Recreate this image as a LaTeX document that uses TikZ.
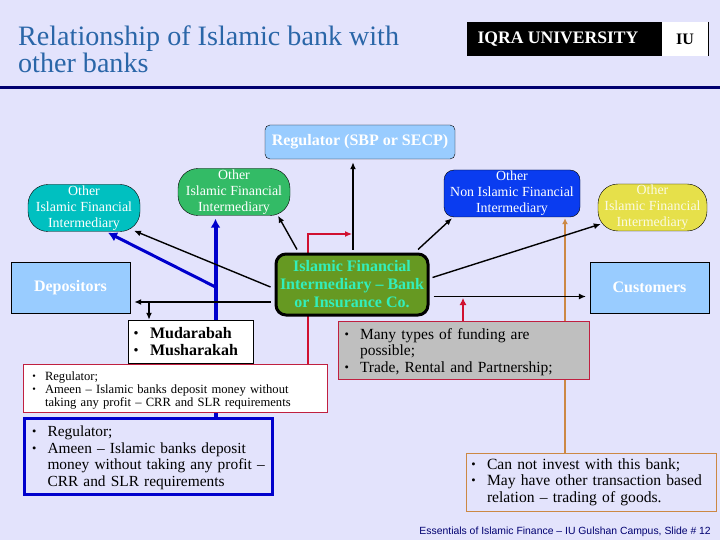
\documentclass[tikz,border=0pt]{standalone}
\usepackage{fontspec}
\setmainfont{Liberation Serif}
\newfontfamily\footerfont{Liberation Sans}
\usepackage{graphicx}
\usetikzlibrary{arrows.meta, backgrounds, calc}

\definecolor{slidebg}{HTML}{E3E3FC}
\definecolor{titleblue}{HTML}{2A66A8}
\definecolor{rulenavy}{HTML}{000070}
\definecolor{skybox}{HTML}{99CCFF}
\definecolor{tealbox}{HTML}{00C0C0}
\definecolor{greenbox}{HTML}{33BB66}
\definecolor{bluebox}{HTML}{0A3CF0}
\definecolor{yellowbox}{HTML}{E6E04A}
\definecolor{hubgreen}{HTML}{669922}
\definecolor{hubtext}{HTML}{33EEBB}
\definecolor{linkred}{HTML}{D01030}
\definecolor{linkorange}{HTML}{CC8844}
\definecolor{linkblue}{HTML}{0000CC}
\definecolor{edgered}{HTML}{C02040}

\newcommand{\bul}{\leavevmode\llap{\raisebox{.05em}{\scalebox{.8}{\textbullet}}\hspace{.72em}}}

\tikzset{
    other/.style={draw=black, rounded corners=20pt, text=white, align=center, inner sep=0pt,
        minimum height=47pt, font=\fontsize{13.9}{16}\selectfont,
        execute at begin node={\rule{0pt}{14pt}}},
    party/.style={draw=black, fill=skybox, text=white, align=center, inner sep=0pt,
        minimum width=119pt, minimum height=51pt, font=\fontsize{16}{18}\selectfont\bfseries},
    listbox/.style={align=left, inner sep=0pt, execute at begin node={\leftskip=#1\relax}},
    link/.style={black, line width=1.4pt, -{Latex[length=7pt,width=6pt]}},
}

\begin{document}
\begin{tikzpicture}[x=1pt, y=-1pt]
    \useasboundingbox (0,0) rectangle (720,540);

    % Heading
    \node[anchor=north west, align=left, inner sep=0pt, text=titleblue, font=\fontsize{28.1}{25}\selectfont] (title) at (18,26)
        {Relationship of Islamic bank with\\other banks};
    \node[fill=black, text=white, minimum width=195pt, minimum height=34pt, inner sep=0pt, font=\fontsize{17.6}{18}\selectfont\bfseries] (logo) at (564.5,39) {IQRA UNIVERSITY\kern13pt};
    \node[fill=white, text=black, minimum width=46pt, minimum height=34pt, inner sep=0pt, font=\fontsize{16}{18}\selectfont\bfseries] (logoIU) at (685,39) {IU};
    \draw[black, line width=0.7pt] (logoIU.north east) -- (logoIU.south east);
    \fill[rulenavy] (0,86) rectangle (720,89);

    % Upper row
    \node[draw=black, fill=skybox, text=white, rounded corners=5pt, minimum width=190pt, minimum height=34pt, inner sep=0pt, font=\fontsize{16}{18}\selectfont\bfseries] (regulator) at (360,142) {Regulator (SBP or SECP)};
    \node[other, fill=tealbox, minimum width=112pt] (otherTeal) at (84,208) {Other\\Islamic Financial\\Intermediary};
    \node[other, fill=greenbox, minimum width=112pt] (otherGreen) at (234,192) {Other\\Islamic Financial\\Intermediary};
    \node[other, fill=bluebox, rounded corners=10pt, minimum width=136pt] (otherBlue) at (512,193.5) {Other\\Non Islamic Financial\\Intermediary};
    \node[other, fill=yellowbox, text=white!85!yellowbox, minimum width=109pt] (otherYellow) at (652.5,207.5) {Other\\Islamic Financial\\Intermediary};

    % Middle row
    \node[party] (depositors) at (70.5,287.5) {Depositors};
    \node[party] (customers) at (649.5,287.5) {Customers};
    \node[draw=black, line width=3pt, fill=hubgreen, text=hubtext, rounded corners=10pt, minimum width=152pt, minimum height=61pt, inner sep=0pt, align=center, font=\fontsize{16}{18}\selectfont\bfseries] (hub) at (352,284.5)
        {Islamic Financial\\Intermediary -- Bank\\or Insurance Co.};

    % Lists
    \node[listbox=22pt, draw=black, fill=white, text width=125pt, minimum height=43pt, font=\fontsize{16}{16.5}\selectfont\bfseries] (modes) at (190.5,341.5)
        {\bul Mudarabah\\\bul Musharakah};
    \node[listbox=22pt, draw=edgered, fill=white, text width=304pt, minimum height=48pt, font=\fontsize{12.6}{13}\selectfont] (regWhite) at (175,388)
        {\rule{0pt}{13pt}\bul Regulator;\\\bul Ameen -- Islamic banks deposit money without\\taking any profit -- CRR and SLR requirements};
    \node[listbox=23pt, draw=linkblue, line width=3pt, fill=slidebg, text width=248pt, minimum height=76pt, font=\fontsize{15.4}{16.5}\selectfont] (regBlue) at (148.5,456.5)
        {\rule{0pt}{13pt}\bul Regulator;\\\bul Ameen -- Islamic banks deposit\\money without taking any profit --\\CRR and SLR requirements};
    \node[listbox=22pt, draw=edgered, fill=black!25, text width=251pt, minimum height=58pt, font=\fontsize{15.5}{16.5}\selectfont] (funding) at (463.5,350)
        {\rule{0pt}{15pt}\bul Many types of funding are\\possible;\\\bul Trade, Rental and Partnership;};
    \node[listbox=21pt, draw=linkorange, fill=slidebg, text width=250pt, minimum height=58pt, font=\fontsize{15.6}{16.5}\selectfont] (invest) at (591,482)
        {\bul Can not invest with this bank;\\\bul May have other transaction based\\relation -- trading of goods.};

    % Footer
    \node[anchor=east, inner sep=0pt, text=rulenavy, font=\footerfont\fontsize{10.4}{12}\selectfont] (footer) at (711,532) {Essentials of Islamic Finance – IU Gulshan Campus, Slide \# 12};

    % Connectors
    \coordinate (blueFork) at (215.5,287);
    \coordinate (redTip) at (352,234);
    \coordinate (fundingTip) at (463,298);
    \begin{pgfonlayer}{background}
        \fill[slidebg] (0,0) rectangle (720,540);
        \draw[linkblue, line width=4pt, -{Latex[length=9pt,width=10pt]}] (regBlue.north -| blueFork) -- ([yshift=-3pt]otherGreen.south -| blueFork);
        \draw[linkblue, line width=3pt, -{Latex[length=9pt,width=10pt]}] (blueFork) -- ([xshift=24pt,yshift=-1pt]otherTeal.south);
        \draw[linkred, line width=1.1pt, -{Latex[length=7pt,width=6pt]}] ([xshift=133pt]regWhite.north) |- (redTip);
        \draw[linkorange, line width=1.3pt, -{Latex[length=6pt,width=6pt]}] (invest.north -| 565,0) -- ([yshift=-1pt]otherBlue.south -| 565,0);
        \draw[link] ([xshift=1pt,yshift=3pt]hub.north) -- ([xshift=-7pt,yshift=-3pt]regulator.south);
        \draw[link] ([xshift=-55pt,yshift=3pt]hub.north) -- ([xshift=44pt]otherGreen.south);
        \draw[link] ([yshift=-2.5pt,xshift=-4pt]hub.west) -- ([xshift=50pt,yshift=1pt]otherTeal.south);
        \draw[link] ([yshift=-17.5pt,xshift=-4pt]hub.west) -- ([xshift=4pt,yshift=-14.5pt]depositors.east);
        \draw[link] (149,302) -- (modes.north -| 149,0);
        \draw[link] ([xshift=66pt,yshift=3pt]hub.north) -- ([xshift=-60pt,yshift=-1pt]otherBlue.south);
        \draw[link] ([xshift=3pt,yshift=7pt]hub.east) -- ([xshift=3pt,yshift=-16.5pt]otherYellow.west);
        \draw[link, line width=1pt] ([xshift=4pt,yshift=-12pt]hub.east) -- ([xshift=-4pt,yshift=-9pt]customers.west);
        \draw[linkred, line width=1.1pt, -{Latex[length=7pt,width=7pt]}] (funding.north -| fundingTip) -- (fundingTip);
    \end{pgfonlayer}
\end{tikzpicture}
\end{document}
